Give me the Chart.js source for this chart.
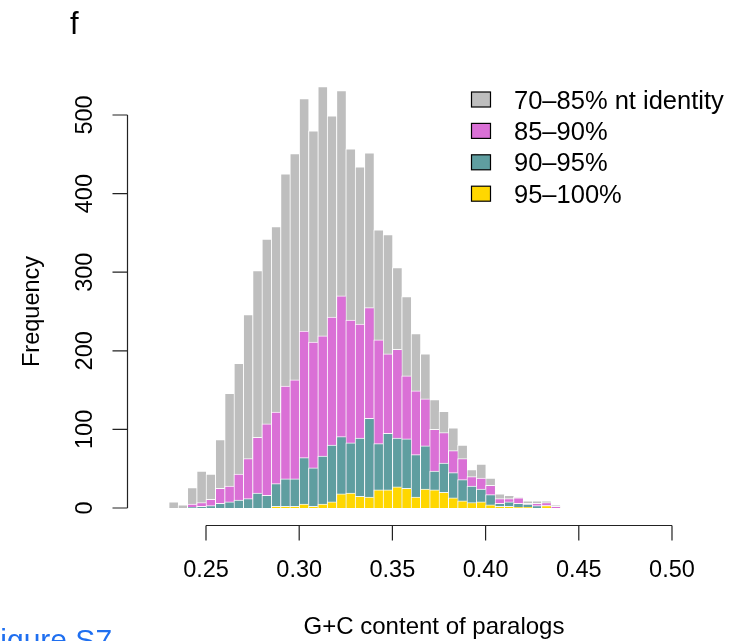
<!DOCTYPE html>
<html>
<head>
<meta charset="utf-8">
<script src="https://cdn.jsdelivr.net/npm/chart.js@4.4.1/dist/chart.umd.min.js"></script>
<style>
  html, body { margin: 0; padding: 0; background: #fff; }
  canvas { display: block; }
</style>
</head>
<body>
<canvas id="gcChart" width="748" height="641"></canvas>
<script>
// left edges of the G+C bins (bin width 0.005)
const binStart = [
  0.230, 0.235, 0.240, 0.245, 0.250, 0.255, 0.260, 0.265, 0.270, 0.275,
  0.280, 0.285, 0.290, 0.295, 0.300, 0.305, 0.310, 0.315, 0.320, 0.325,
  0.330, 0.335, 0.340, 0.345, 0.350, 0.355, 0.360, 0.365, 0.370, 0.375,
  0.380, 0.385, 0.390, 0.395, 0.400, 0.405, 0.410, 0.415, 0.420, 0.425,
  0.430, 0.435
];
const binWidth = 0.005;

// paralog counts per bin at or above each identity cut-off
const countFrom70 = [
  8, 4, 26, 47, 43, 87, 146, 184, 246, 302,
  342, 358, 425, 451, 521, 480, 536, 499, 531, 457,
  434, 452, 354, 348, 306, 269, 222, 196, 138, 123,
  102, 80, 49, 56, 38, 18, 16, 14, 9, 9,
  9, 4
];
const countFrom85 = [
  0, 0, 5, 7, 11, 25, 28, 43, 63, 90,
  107, 122, 155, 163, 225, 211, 219, 243, 270, 239,
  234, 255, 214, 196, 202, 168, 149, 139, 100, 96,
  73, 63, 40, 38, 29, 12, 12, 13, 6, 6,
  7, 2
];
const countFrom90 = [
  0, 0, 1, 2, 3, 6, 8, 10, 12, 19,
  16, 31, 37, 37, 64, 51, 66, 80, 91, 83,
  89, 114, 82, 95, 89, 88, 68, 79, 47, 57,
  45, 36, 28, 24, 17, 6, 8, 6, 5, 3,
  3, 0
];
const countFrom95 = [
  0, 0, 0, 0, 0, 0, 0, 0, 0, 0,
  0, 2, 2, 2, 5, 2, 5, 8, 18, 19,
  15, 14, 23, 23, 27, 25, 14, 24, 23, 20,
  13, 9, 7, 8, 4, 2, 2, 1, 1, 0,
  3, 0
];

const seriesNames = ['70\u201385% nt identity', '85\u201390%', '90\u201395%', '95\u2013100%'];
const seriesColors = ['#BEBEBE', '#DA70D6', '#5F9EA0', '#FFD700'];
const seriesCounts = [countFrom70, countFrom85, countFrom90, countFrom95];

const xTicks = [0.25, 0.30, 0.35, 0.40, 0.45, 0.50];
const yTicks = [0, 100, 200, 300, 400, 500];

const FONT = '"Liberation Sans", Arial, Helvetica, sans-serif';

// base-graphics style axes, titles and legend
const baseAxes = {
  id: 'baseAxes',
  afterDraw(chart) {
    const { ctx, chartArea: area, scales: { x, y } } = chart;
    ctx.save();
    ctx.strokeStyle = '#222';
    ctx.fillStyle = '#000';
    ctx.lineWidth = 1.2;

    // x axis
    const xb = Math.round(area.bottom) + 0.5;
    ctx.beginPath();
    ctx.moveTo(x.getPixelForValue(xTicks[0]), xb);
    ctx.lineTo(x.getPixelForValue(xTicks[xTicks.length - 1]), xb);
    xTicks.forEach(v => {
      const px = x.getPixelForValue(v);
      ctx.moveTo(px, xb);
      ctx.lineTo(px, xb + 15);
    });
    ctx.stroke();

    ctx.font = '23.5px ' + FONT;
    ctx.textAlign = 'center';
    ctx.textBaseline = 'alphabetic';
    xTicks.forEach(v => {
      ctx.fillText(v.toFixed(2), x.getPixelForValue(v), 577);
    });

    // y axis
    const yl = Math.round(area.left) + 0.5;
    ctx.beginPath();
    ctx.moveTo(yl, y.getPixelForValue(yTicks[0]));
    ctx.lineTo(yl, y.getPixelForValue(yTicks[yTicks.length - 1]));
    yTicks.forEach(v => {
      const py = y.getPixelForValue(v);
      ctx.moveTo(yl, py);
      ctx.lineTo(yl - 15, py);
    });
    ctx.stroke();

    yTicks.forEach(v => {
      ctx.save();
      ctx.translate(92, y.getPixelForValue(v));
      ctx.rotate(-Math.PI / 2);
      ctx.fillText(String(v), 0, 0);
      ctx.restore();
    });

    // axis titles
    ctx.font = '24px ' + FONT;
    ctx.fillText('G+C content of paralogs', 434, 634);
    ctx.font = '23.5px ' + FONT;
    ctx.save();
    ctx.translate(39, (y.getPixelForValue(yTicks[0]) + y.getPixelForValue(yTicks[yTicks.length - 1])) / 2);
    ctx.rotate(-Math.PI / 2);
    ctx.fillText('Frequency', 0, 0);
    ctx.restore();

    // panel letter
    ctx.textAlign = 'left';
    ctx.font = '31px ' + FONT;
    ctx.fillText('f', 70, 34);

    // legend
    ctx.font = '25.5px ' + FONT;
    ctx.lineWidth = 1.2;
    ctx.strokeStyle = '#000';
    seriesNames.forEach((name, i) => {
      const cy = 99.5 + i * 31.4;
      ctx.fillStyle = seriesColors[i];
      ctx.fillRect(471.5, cy - 7.5, 19, 15);
      ctx.strokeRect(471.5, cy - 7.5, 19, 15);
      ctx.fillStyle = '#000';
      ctx.fillText(name, 514, cy + 9.1);
    });

    // caption link below the panel
    ctx.fillStyle = '#1f6ff0';
    ctx.font = '30px ' + FONT;
    ctx.fillText('Figure S7', -18, 650);
    ctx.restore();
  }
};

const datasets = seriesCounts.map((counts, i) => ({
  label: seriesNames[i],
  data: counts.map((c, j) => ({ x: binStart[j] + binWidth / 2, y: c })),
  backgroundColor: seriesColors[i],
  borderColor: 'rgba(255,255,255,0.9)',
  borderWidth: { top: 1, left: 1, right: 0, bottom: 0 },
  borderSkipped: false,
  grouped: false,
  barPercentage: 1,
  categoryPercentage: 1,
  // later series sit in front of the wider ones
  order: seriesCounts.length - i,
  clip: false
}));

new Chart(document.getElementById('gcChart').getContext('2d'), {
  type: 'bar',
  data: { datasets: datasets },
  options: {
    responsive: false,
    animation: false,
    devicePixelRatio: 1,
    layout: { padding: { left: 127, right: 55, top: 67, bottom: 116 } },
    plugins: {
      legend: { display: false },
      title: { display: false },
      tooltip: { enabled: false }
    },
    scales: {
      x: { type: 'linear', min: 0.20762, max: 0.51127, offset: false, display: false },
      y: { min: -21.63, max: 561.07, display: false }
    }
  },
  plugins: [baseAxes]
});
</script>
</body>
</html>
